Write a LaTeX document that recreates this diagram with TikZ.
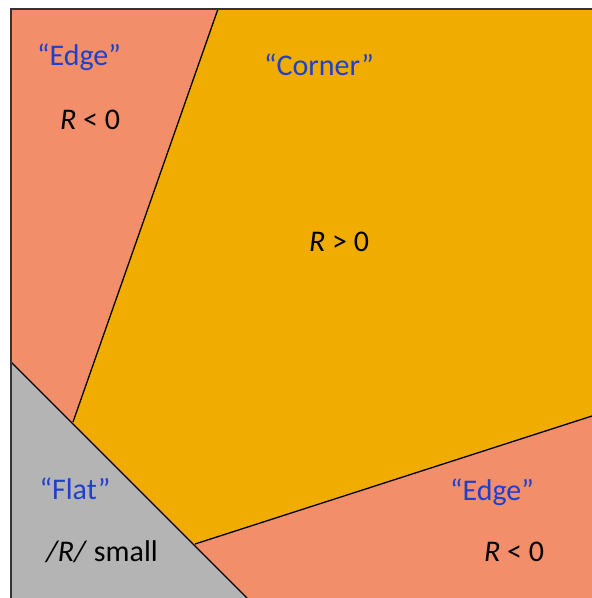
\documentclass[tikz,border=0pt]{standalone}
\usepackage{fontspec}
\setmainfont{Carlito}
\definecolor{edgecol}{RGB}{242,142,106}
\definecolor{cornercol}{RGB}{240,173,0}
\definecolor{flatcol}{RGB}{180,180,180}
\definecolor{labelblue}{RGB}{30,65,205}
\begin{document}
\begin{tikzpicture}[x=1pt,y=-1pt,
  lbl/.style={text=labelblue,font=\fontsize{30}{36}\selectfont,inner sep=0pt,anchor=base},
  val/.style={text=black,font=\fontsize{30}{36}\selectfont,inner sep=0pt,anchor=base},
  divider/.style={line width=1.3pt,black}]
\useasboundingbox (0,0) rectangle (592,598);
\fill[white] (0,0) rectangle (592,598);
% edge background
\fill[edgecol] (11,9) rectangle (592,598);
% corner region
\fill[cornercol] (218,9) -- (592,9) -- (592,416) -- (195,544) -- (73,422) -- cycle;
\draw[divider] (218,9) -- (73,422);
\draw[divider] (195,544) -- (592,416);
% flat region
\fill[flatcol] (11,362) -- (247,598) -- (11,598) -- cycle;
\draw[divider] (11,362) -- (247,598);
% outer border
\draw[line width=1.8pt,black!80] (592,9) -- (11,9) -- (11,598);
% labels
\node[lbl] (edge1) at (79,65) {“Edge”};
\node[val] (r1) at (90,129) {\textit{R} < 0};
\node[lbl] (corner) at (319,75) {“Corner”};
\node[val] (r2) at (339,251) {\textit{R} > 0};
\node[lbl] (flat) at (75,499) {“Flat”};
\node[val] (r3) at (102,561) {\textit{/R/} small};
\node[lbl] (edge2) at (492,500) {“Edge”};
\node[val] (r4) at (514,561) {\textit{R} < 0};
\end{tikzpicture}
\end{document}
